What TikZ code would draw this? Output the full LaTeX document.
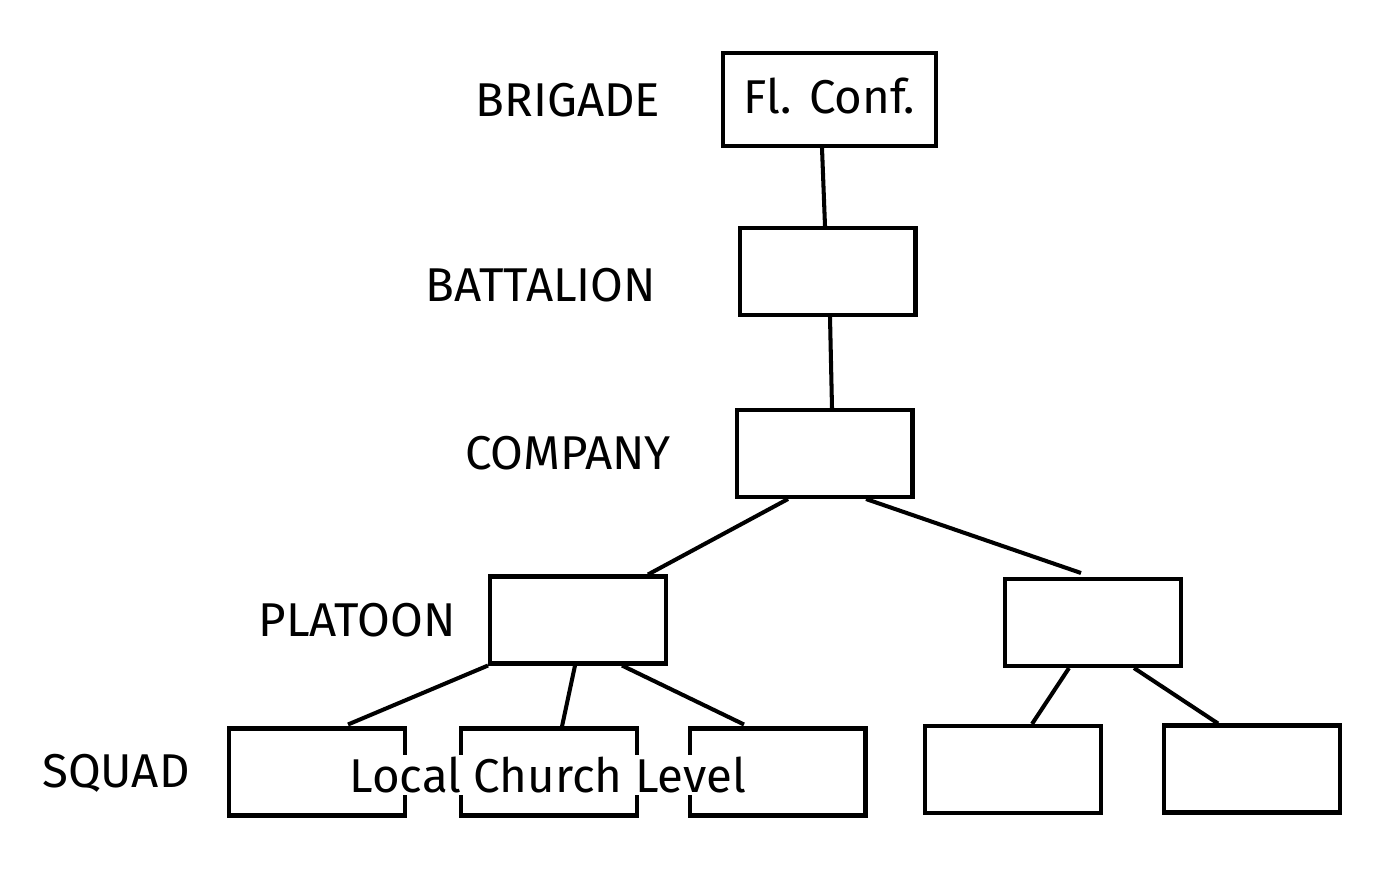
\documentclass[tikz,border=0pt]{standalone}
\usepackage{fontspec}
\setmainfont{Fira Sans}
\usetikzlibrary{calc}
\tikzset{box/.style={draw, line width=2.3pt, minimum width=3.52cm, minimum height=1.74cm, inner sep=0pt}}
\tikzset{level/.style={font=\fontsize{27}{32}\selectfont}}
\tikzset{link/.style={line width=2.3pt}}
\begin{document}
\begin{tikzpicture}[x=0.02cm,y=-0.02cm]
  \useasboundingbox (0,0) rectangle (1396,876);
  % levels
  \node[level] (lbri) at (568,100) {BRIGADE};
  \node[level] (lbat) at (541,285) {BATTALION};
  \node[level] (lcom) at (568,453) {COMPANY};
  \node[level] (lpla) at (357,620) {PLATOON};
  \node[level] (lsqu) at (116,773) {SQUAD};
  % boxes
  \node[box, minimum width=4.26cm, minimum height=1.86cm, level] (bri) at (829.5,99.5) {\raisebox{4pt}{Fl. Conf.}};
  \node[box] (bat) at (827.5,271.5) {};
  \node[box] (com) at (824.5,453.5) {};
  \node[box] (plaA) at (578,620) {};
  \node[box] (plaB) at (1093,622.5) {};
  \node[box] (squA) at (317,772) {};
  \node[box] (squB) at (549,772) {};
  \node[box] (squC) at (777.5,772) {};
  \node[box] (squD) at (1013,769.5) {};
  \node[box] (squE) at (1252,769) {};
  \node[level, fill=white, inner sep=1pt] (local) at (548,775) {Local Church Level};
  % links
  \draw[link] ($(bri.south)+(-7.5,0)$) -- ($(bat.north)+(-2.5,0)$);
  \draw[link] ($(bat.south)+(2.5,0)$) -- ($(com.north)+(7.5,0)$);
  \draw[link] ($(com.south)+(-36.5,0)$) -- ($(plaA.north)+(70,0)$);
  \draw[link] ($(com.south)+(41.5,0)$) -- ($(plaB.north)+(-12,-4)$);
  \draw[link] (plaA.south west) -- ($(squA.north)+(31,-2)$);
  \draw[link] ($(plaA.south)+(-3,0)$) -- ($(squB.north)+(13,0)$);
  \draw[link] ($(plaA.south)+(44,0)$) -- ($(squC.north)+(-33.5,-2)$);
  \draw[link] ($(plaB.south)+(-24,0)$) -- ($(squD.north)+(19,0)$);
  \draw[link] ($(plaB.south)+(41,0)$) -- ($(squE.north)+(-34,0)$);
\end{tikzpicture}
\end{document}
